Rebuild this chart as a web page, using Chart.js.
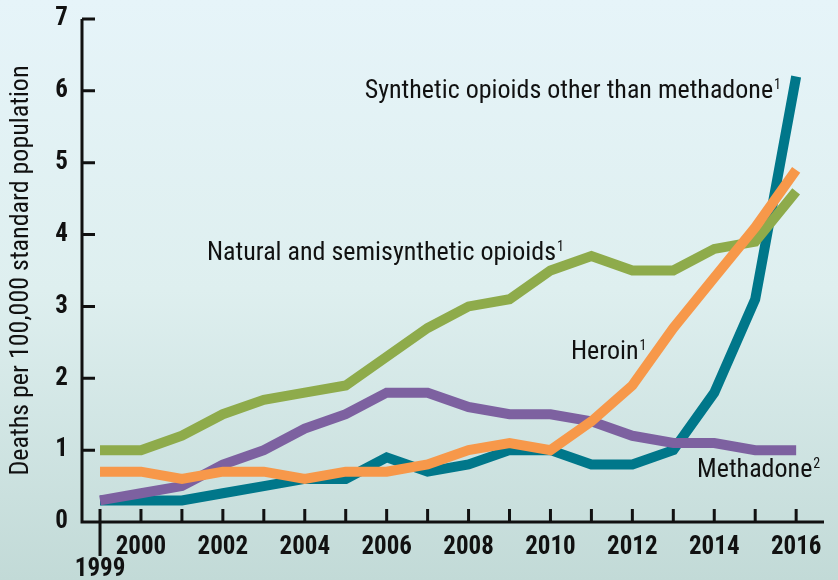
<!DOCTYPE html>
<html>
<head>
<meta charset="utf-8">
<script src="https://cdn.jsdelivr.net/npm/chart.js@4/dist/chart.umd.min.js"></script>
<style>
    html, body { margin: 0; padding: 0; }
    body {
        width: 838px; height: 580px; overflow: hidden;
        background: linear-gradient(to bottom, #e6f4f9 0%, #deefef 50%, #c2dad7 100%);
    }
    #wrap { position: relative; width: 838px; height: 580px; }
</style>
</head>
<body>
<div id="wrap"><canvas id="myChart"></canvas></div>
<script>
// years on the x axis
var anos = [1999, 2000, 2001, 2002, 2003, 2004, 2005, 2006, 2007, 2008,
            2009, 2010, 2011, 2012, 2013, 2014, 2015, 2016]
var yTicks = [0, 1, 2, 3, 4, 5, 6, 7]

// deaths per 100,000 standard population
var natural   = [1.0, 1.0, 1.2, 1.5, 1.7, 1.8, 1.9, 2.3, 2.7, 3.0, 3.1, 3.5, 3.7, 3.5, 3.5, 3.8, 3.9, 4.6]
var heroin    = [0.7, 0.7, 0.6, 0.7, 0.7, 0.6, 0.7, 0.7, 0.8, 1.0, 1.1, 1.0, 1.4, 1.9, 2.7, 3.4, 4.1, 4.9]
var synthetic = [0.3, 0.3, 0.3, 0.4, 0.5, 0.6, 0.6, 0.9, 0.7, 0.8, 1.0, 1.0, 0.8, 0.8, 1.0, 1.8, 3.1, 6.2]
var methadone = [0.3, 0.4, 0.5, 0.8, 1.0, 1.3, 1.5, 1.8, 1.8, 1.6, 1.5, 1.5, 1.4, 1.2, 1.1, 1.1, 1.0, 1.0]

var yTitle = 'Deaths per 100,000 standard population'

// line labels, anchored in data units (year, value)
var rotulos = [
    { text: 'Synthetic opioids other than methadone', sup: '1', x: 2015.63, y: 5.90, align: 'right' },
    { text: 'Natural and semisynthetic opioids', sup: '1', x: 2001.61, y: 3.65, align: 'left' },
    { text: 'Heroin', sup: '1', x: 2010.5, y: 2.27, align: 'left' },
    { text: 'Methadone', sup: '2', x: 2013.58, y: 0.63, align: 'left' }
]

var FONTE = "'Liberation Sans Narrow', 'Arial Narrow', 'Roboto Condensed', sans-serif"
var INK = '#111111'

function pontos(arr) {
    return arr.map(function (v, i) { return { x: anos[i], y: v } })
}

// axis lines and inward tick marks
var eixos = {
    id: 'eixos',
    beforeDatasetsDraw: function (chart) {
        var ctx = chart.ctx
        var xs = chart.scales.x, ys = chart.scales.y
        var a = chart.chartArea
        ctx.save()
        ctx.strokeStyle = INK
        ctx.lineWidth = 3
        ctx.lineCap = 'butt'
        ctx.beginPath()
        ctx.moveTo(a.left, a.top)
        ctx.lineTo(a.left, a.bottom)
        ctx.lineTo(a.right, a.bottom)
        yTicks.forEach(function (t) {
            var py = ys.getPixelForValue(t)
            ctx.moveTo(a.left, py)
            ctx.lineTo(a.left + 13, py)
        })
        anos.forEach(function (yr) {
            var px = xs.getPixelForValue(yr)
            ctx.moveTo(px, a.bottom - 13)
            ctx.lineTo(px, yr === 1999 ? a.bottom + 34 : a.bottom)
        })
        ctx.stroke()
        ctx.restore()
    }
}

// text labels beside the lines
var etiquetas = {
    id: 'etiquetas',
    afterDatasetsDraw: function (chart) {
        var ctx = chart.ctx
        var xs = chart.scales.x, ys = chart.scales.y
        ctx.save()
        ctx.fillStyle = INK
        ctx.textBaseline = 'alphabetic'
        rotulos.forEach(function (r) {
            var px = xs.getPixelForValue(r.x)
            var py = ys.getPixelForValue(r.y)
            ctx.font = '26px ' + FONTE
            var w = ctx.measureText(r.text).width
            ctx.font = '14px ' + FONTE
            var ws = ctx.measureText(r.sup).width
            var x0 = r.align === 'right' ? px - w - ws - 1 : px
            ctx.font = '26px ' + FONTE
            ctx.fillText(r.text, x0, py)
            ctx.font = '14px ' + FONTE
            ctx.fillText(r.sup, x0 + w + 1, py - 9)
        })
        ctx.restore()
    }
}

var ctx = document.getElementById('myChart').getContext('2d')
Chart.defaults.font.family = FONTE
Chart.defaults.color = INK

new Chart(ctx, {
    type: 'line',
    data: {
        datasets: [
            { label: 'Heroin', data: pontos(heroin), borderColor: '#f7984a', order: 1 },
            { label: 'Natural and semisynthetic opioids', data: pontos(natural), borderColor: '#8eab4b', order: 2 },
            { label: 'Methadone', data: pontos(methadone), borderColor: '#7d61a0', order: 3 },
            { label: 'Synthetic opioids other than methadone', data: pontos(synthetic), borderColor: '#00778a', order: 4 }
        ]
    },
    options: {
        responsive: true,
        maintainAspectRatio: false,
        animation: false,
        layout: { padding: { top: 19, right: 14, left: 0, bottom: 0 } },
        elements: {
            line: { borderWidth: 10, tension: 0, fill: false, borderCapStyle: 'butt', borderJoinStyle: 'miter' },
            point: { radius: 0, hoverRadius: 0 }
        },
        plugins: {
            legend: { display: false },
            tooltip: { enabled: false }
        },
        scales: {
            x: {
                type: 'linear',
                min: 1998.56,
                max: 2016.68,
                afterBuildTicks: function (scale) {
                    scale.ticks = anos.map(function (v) { return { value: v } })
                },
                afterFit: function (scale) {
                    scale.height = 58
                    scale.paddingLeft = 0
                    scale.paddingRight = 0
                },
                grid: { display: false, drawTicks: false },
                border: { display: false },
                ticks: {
                    autoSkip: false,
                    maxRotation: 0,
                    padding: 14,
                    font: { size: 25, weight: 'bold', lineHeight: 0.9 },
                    callback: function (v) {
                        if (v === 1999) return ['', '1999']
                        return v % 2 === 0 ? String(v) : ''
                    }
                }
            },
            y: {
                min: 0,
                max: 7,
                afterBuildTicks: function (scale) {
                    scale.ticks = yTicks.map(function (v) { return { value: v } })
                },
                afterFit: function (scale) {
                    scale.width = 82
                    scale.paddingTop = 0
                    scale.paddingBottom = 0
                },
                grid: { display: false, drawTicks: false },
                border: { display: false },
                ticks: {
                    padding: 14,
                    font: { size: 25, weight: 'bold' }
                },
                title: {
                    display: true,
                    text: yTitle,
                    font: { size: 26 },
                    padding: { top: 6, bottom: 4 }
                }
            }
        }
    },
    plugins: [eixos, etiquetas]
})
</script>
</body>
</html>
